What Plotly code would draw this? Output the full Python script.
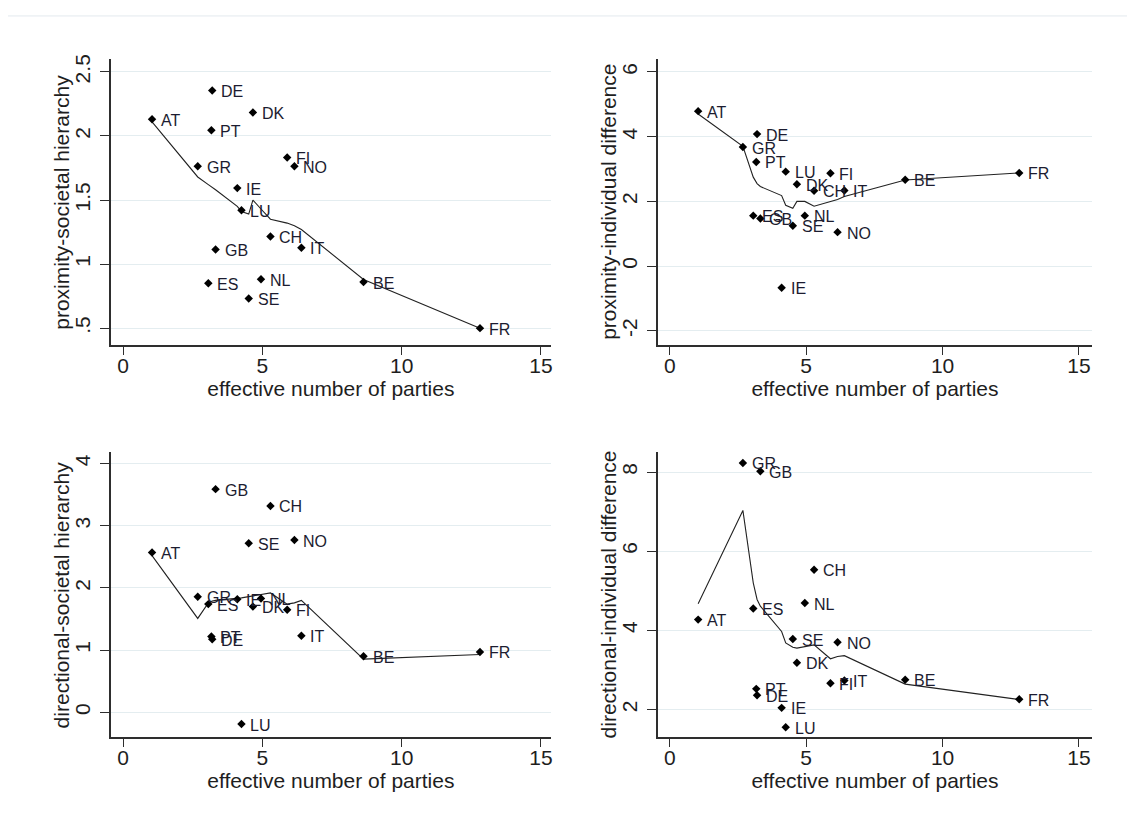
import plotly.graph_objects as go

# Countries and effective number of parties (shared x variable)
countries = ["AT", "BE", "CH", "DE", "DK", "ES", "FI", "FR", "GB",
             "GR", "IE", "IT", "LU", "NL", "NO", "PT", "SE"]
enp = [1.04, 8.63, 5.29, 3.20, 4.66, 3.06, 5.89, 12.81, 3.32,
       2.68, 4.10, 6.40, 4.25, 4.95, 6.15, 3.17, 4.51]

# Observed values per country
prox_soc = [2.13, 0.86, 1.215, 2.355, 2.184, 0.85, 1.832, 0.50, 1.114,
            1.764, 1.593, 1.127, 1.42, 0.881, 1.764, 2.044, 0.731]
prox_ind = [4.79, 2.67, 2.33, 4.08, 2.53, 1.56, 2.87, 2.88, 1.47,
            3.68, -0.67, 2.34, 2.92, 1.56, 1.05, 3.22, 1.25]
dir_soc = [2.57, 0.90, 3.32, 1.175, 1.70, 1.74, 1.65, 0.97, 3.59,
           1.86, 1.82, 1.23, -0.19, 1.83, 2.77, 1.22, 2.72]
dir_ind = [4.27, 2.75, 5.53, 2.36, 3.18, 4.55, 2.66, 2.26, 8.02,
           8.23, 2.04, 2.73, 1.55, 4.69, 3.70, 2.52, 3.78]

# Lowess-smoothed values at each country
fit_prox_soc = [2.11, 0.88, 1.35, 1.60, 1.50, 1.62, 1.32, 0.50, 1.58,
                1.68, 1.45, 1.27, 1.41, 1.43, 1.30, 1.60, 1.39]
fit_prox_ind = [4.70, 2.66, 1.85, 2.55, 2.00, 2.75, 1.98, 2.88, 2.46,
                3.70, 2.18, 2.15, 1.88, 2.00, 2.06, 2.60, 1.79]
fit_dir_soc = [2.52, 0.855, 1.92, 1.79, 1.87, 1.76, 1.74, 0.93, 1.80,
               1.51, 1.83, 1.80, 1.84, 1.89, 1.76, 1.79, 1.86]
fit_dir_ind = [4.67, 2.64, 3.63, 4.78, 3.55, 5.20, 3.28, 2.25, 4.61,
               7.03, 3.97, 3.36, 3.68, 3.58, 3.34, 4.87, 3.57]

x_title = "effective number of parties"
x_ticks = [0, 5, 10, 15]

panels = [
    dict(y=prox_soc, fit=fit_prox_soc, title="proximity-societal hierarchy",
         tickvals=[0.5, 1, 1.5, 2, 2.5], ticktext=[".5", "1", "1.5", "2", "2.5"],
         yrange=[0.368, 2.603], xrange=[-0.44, 15.36],
         xdom=[111, 552], ydom=[55, 342.7]),
    dict(y=prox_ind, fit=fit_prox_ind, title="proximity-individual difference",
         tickvals=[-2, 0, 2, 4, 6], ticktext=["-2", "0", "2", "4", "6"],
         yrange=[-2.44, 6.41], xrange=[-0.438, 15.48],
         xdom=[659, 1094], ydom=[55, 342.7]),
    dict(y=dir_soc, fit=fit_dir_soc, title="directional-societal hierarchy",
         tickvals=[0, 1, 2, 3, 4], ticktext=["0", "1", "2", "3", "4"],
         yrange=[-0.40, 4.19], xrange=[-0.44, 15.36],
         xdom=[111, 552], ydom=[450, 736.7]),
    dict(y=dir_ind, fit=fit_dir_ind, title="directional-individual difference",
         tickvals=[2, 4, 6, 8], ticktext=["2", "4", "6", "8"],
         yrange=[1.30, 8.51], xrange=[-0.438, 15.48],
         xdom=[659, 1094], ydom=[450, 736.7]),
]

W, H = 1129, 830
FONT = "Liberation Sans, Arial, sans-serif"
AXIS_COLOR = "#2e2e2e"
TEXT_COLOR = "#1e1e1e"
LABEL_COLOR = "#1c1c30"
GRID_COLOR = "#e4edf0"
YTITLE_GAP = 49  # px from the y axis line to the centre of its title

fig = go.Figure()
layout = {}
annotations = []

order = sorted(range(len(enp)), key=lambda i: enp[i])

for k, p in enumerate(panels, start=1):
    sfx = "" if k == 1 else str(k)
    xa, ya = "x" + sfx, "y" + sfx

    # smoothed curve
    fig.add_trace(go.Scatter(
        x=[enp[i] for i in order], y=[p["fit"][i] for i in order],
        mode="lines", line=dict(color="#222222", width=1.1),
        xaxis=xa, yaxis=ya, showlegend=False, hoverinfo="skip"))

    # country markers
    fig.add_trace(go.Scatter(
        x=enp, y=p["y"], text=countries, mode="markers",
        marker=dict(symbol="diamond", size=6.5, color="#000000"),
        xaxis=xa, yaxis=ya, showlegend=False))

    # marker labels to the right of each point
    for name, xv, yv in zip(countries, enp, p["y"]):
        annotations.append(dict(
            x=xv, y=yv, xref=xa, yref=ya, text=name, showarrow=False,
            xanchor="left", yanchor="middle", xshift=7, yshift=-1,
            font=dict(family=FONT, size=16, color=LABEL_COLOR)))

    # vertical y-axis title, centred on the panel height
    annotations.append(dict(
        x=(p["xdom"][0] - YTITLE_GAP) / W,
        y=1 - (p["ydom"][0] + p["ydom"][1]) / 2 / H,
        xref="paper", yref="paper", text=p["title"], textangle=-90,
        showarrow=False, xanchor="center", yanchor="middle",
        font=dict(family=FONT, size=21, color=TEXT_COLOR)))

    layout["xaxis" + sfx] = dict(
        domain=[p["xdom"][0] / W, p["xdom"][1] / W], anchor=ya,
        range=p["xrange"], tickvals=x_ticks,
        showline=True, linecolor=AXIS_COLOR, linewidth=1.8,
        ticks="outside", ticklen=8, tickwidth=1.2, tickcolor=AXIS_COLOR,
        ticklabelstandoff=-7,
        showgrid=False, zeroline=False,
        tickfont=dict(family=FONT, size=21, color=TEXT_COLOR),
        title=dict(text=x_title, font=dict(family=FONT, size=21, color=TEXT_COLOR),
                   standoff=0))
    layout["yaxis" + sfx] = dict(
        domain=[1 - p["ydom"][1] / H, 1 - p["ydom"][0] / H], anchor=xa,
        range=p["yrange"], tickvals=p["tickvals"], ticktext=p["ticktext"],
        tickangle=-90, ticklabelstandoff=2,
        showline=True, linecolor=AXIS_COLOR, linewidth=1.8,
        ticks="outside", ticklen=9, tickwidth=1.2, tickcolor=AXIS_COLOR,
        showgrid=True, gridcolor=GRID_COLOR, gridwidth=1, zeroline=False,
        tickfont=dict(family=FONT, size=21, color=TEXT_COLOR))

fig.update_layout(
    width=W, height=H,
    margin=dict(l=0, r=0, t=0, b=0),
    paper_bgcolor="white", plot_bgcolor="white",
    annotations=annotations,
    shapes=[dict(type="line", xref="paper", yref="paper",
                 x0=8 / W, x1=1, y0=1 - 12 / H, y1=1 - 12 / H,
                 line=dict(color="#e3e9ee", width=1))],
    **layout)

fig.write_html("out.html")
